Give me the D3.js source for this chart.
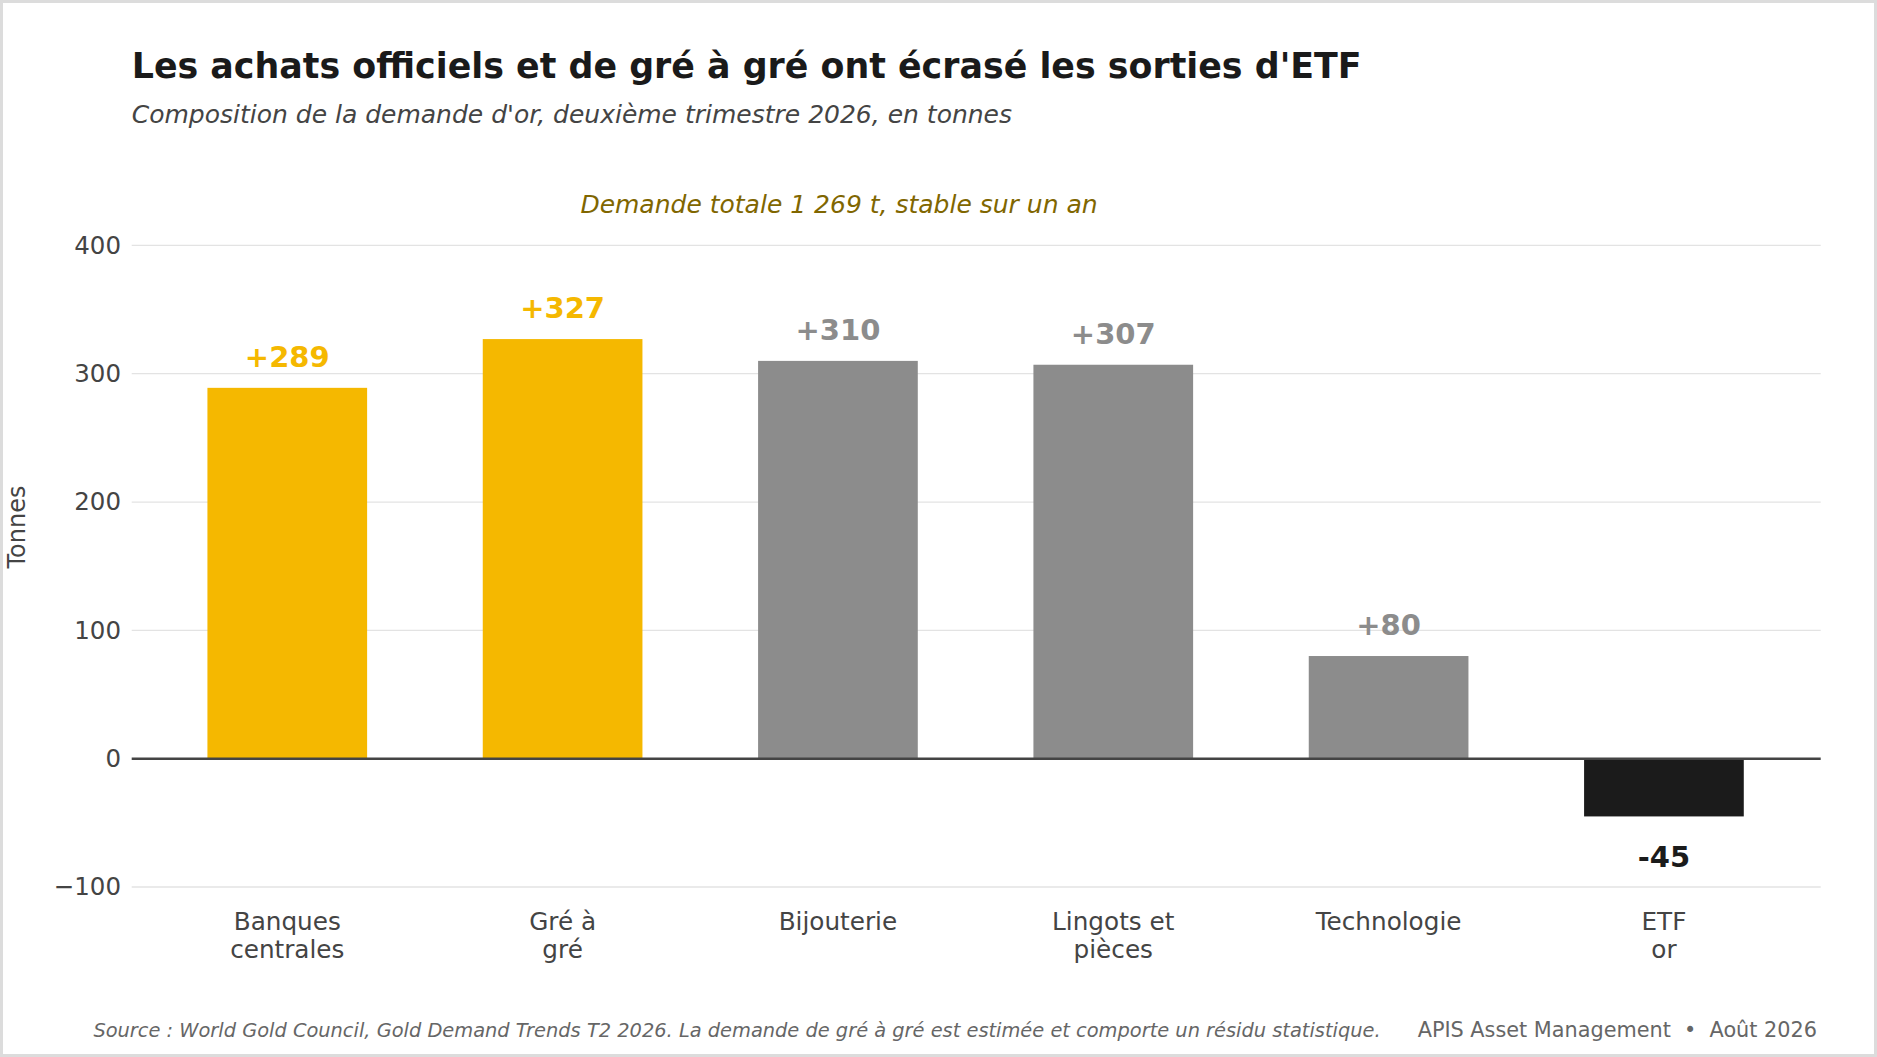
<!DOCTYPE html>
<html>
<head>
<meta charset="utf-8">
<script src="https://cdn.jsdelivr.net/npm/d3@7"></script>
<style>
  html, body { margin: 0; padding: 0; background: #fff; }
  svg { display: block; font-family: "DejaVu Sans", sans-serif; }
  .pre { white-space: pre; }
</style>
</head>
<body>
<svg id="chart" width="1877" height="1057"></svg>
<script>
// ---- data ----
const categories = ["Banques\ncentrales", "Gré à\ngré", "Bijouterie", "Lingots et\npièces", "Technologie", "ETF\nor"];
const values = [289, 327, 310, 307, 80, -45];
const barColors = ["#F5B800", "#F5B800", "#8C8C8C", "#8C8C8C", "#8C8C8C", "#1B1B1B"];
const labelColors = ["#F5B800", "#F5B800", "#8C8C8C", "#8C8C8C", "#8C8C8C", "#1B1B1B"];
const yTicks = [-100, 0, 100, 200, 300, 400];

const title = "Les achats officiels et de gré à gré ont écrasé les sorties d'ETF";
const subtitle = "Composition de la demande d'or, deuxième trimestre 2026, en tonnes";
const annotation = "Demande totale 1 269 t, stable sur un an";
const yLabel = "Tonnes";
const source = "Source : World Gold Council, Gold Demand Trends T2 2026. La demande de gré à gré est estimée et comporte un résidu statistique.";
const credit = "APIS Asset Management  •  Août 2026";

// ---- layout ----
const W = 1877, H = 1057;
const svg = d3.select("#chart");
const plotLeft = 131.7, plotRight = 1820.7;

svg.append("rect").attr("x", 1.5).attr("y", 1.5).attr("width", W - 3).attr("height", H - 3)
  .attr("fill", "#fff").attr("stroke", "#dcdcdc").attr("stroke-width", 3);

const x = d3.scaleBand().domain(categories).range([149.6, 1801.6])
  .paddingInner(0.42).paddingOuter(0.21);
const y = d3.scaleLinear().domain([-100, 400]).range([887.0, 245.4]);

// gridlines
svg.append("g").selectAll("line").data(yTicks.filter(t => t !== 0)).join("line")
  .attr("x1", plotLeft).attr("x2", plotRight)
  .attr("y1", d => y(d)).attr("y2", d => y(d))
  .attr("stroke", "#e3e3e3").attr("stroke-width", 1.3);

// y axis labels
const yAxis = d3.axisLeft(y).tickValues(yTicks).tickSize(0).tickPadding(0)
  .tickFormat(d => d < 0 ? "\u2212" + Math.abs(d) : String(d));
const gy = svg.append("g").attr("transform", `translate(${121},0)`).call(yAxis);
gy.select(".domain").remove();
gy.selectAll("text").attr("font-size", 24.5).attr("fill", "#444")
  .attr("font-family", "DejaVu Sans");

// bars
svg.append("g").selectAll("rect").data(values).join("rect")
  .attr("x", (d, i) => x(categories[i]))
  .attr("width", x.bandwidth())
  .attr("y", d => y(Math.max(0, d)))
  .attr("height", d => Math.abs(y(d) - y(0)))
  .attr("fill", (d, i) => barColors[i]);

// zero line
svg.append("line").attr("x1", plotLeft).attr("x2", plotRight)
  .attr("y1", y(0)).attr("y2", y(0))
  .attr("stroke", "#444").attr("stroke-width", 2.4);

// value labels
svg.append("g").selectAll("text").data(values).join("text")
  .attr("x", (d, i) => x(categories[i]) + x.bandwidth() / 2)
  .attr("y", d => d >= 0 ? y(d) - 21 : y(d) + 51)
  .attr("text-anchor", "middle")
  .attr("font-size", 29).attr("font-weight", "bold")
  .attr("fill", (d, i) => labelColors[i])
  .text(d => (d > 0 ? "+" : "") + d);

// category labels
const cat = svg.append("g").selectAll("text").data(categories).join("text")
  .attr("x", d => x(d) + x.bandwidth() / 2)
  .attr("y", 930)
  .attr("text-anchor", "middle")
  .attr("font-size", 24.7).attr("fill", "#444");
cat.each(function(d) {
  const lines = d.split("\n");
  d3.select(this).selectAll("tspan").data(lines).join("tspan")
    .attr("x", d3.select(this).attr("x"))
    .attr("dy", (l, i) => i === 0 ? 0 : 27.8)
    .text(l => l);
});

// y label
svg.append("text")
  .attr("transform", `translate(25,527) rotate(-90)`)
  .attr("text-anchor", "middle")
  .attr("font-size", 24).attr("fill", "#444")
  .text(yLabel);

// title & subtitle
svg.append("text").attr("x", 131.7).attr("y", 78.4)
  .attr("font-size", 34.85).attr("font-weight", "bold").attr("fill", "#1a1a1a")
  .text(title);
svg.append("text").attr("x", 131.7).attr("y", 123.3)
  .attr("font-size", 25).attr("font-style", "italic").attr("fill", "#444")
  .text(subtitle);

// annotation
svg.append("text").attr("x", 839).attr("y", 213)
  .attr("text-anchor", "middle")
  .attr("font-size", 25).attr("font-style", "italic").attr("fill", "#806600")
  .text(annotation);

// footer (source slightly reduced so it does not run into the credit)
svg.append("text").attr("x", 93.4).attr("y", 1036.6)
  .attr("font-size", 19.4).attr("font-style", "italic").attr("fill", "#666")
  .text(source);
svg.append("text").attr("class", "pre").attr("x", 1817).attr("y", 1036.6)
  .attr("text-anchor", "end")
  .attr("font-size", 20.8).attr("fill", "#666")
  .text(credit);
</script>
</body>
</html>
